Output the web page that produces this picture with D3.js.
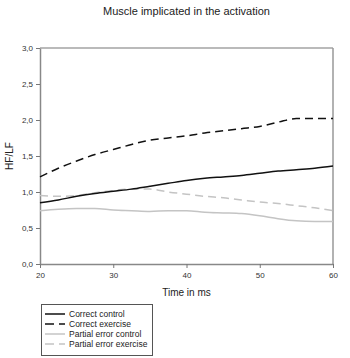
<!DOCTYPE html>
<html><head><meta charset="utf-8">
<script src="https://cdn.jsdelivr.net/npm/d3@7"></script>
<style>
body{margin:0;background:#fff;}
svg{display:block;font-family:"Liberation Sans",Arial,sans-serif;}
</style></head>
<body><svg id="c" width="350" height="358"></svg>
<script>
const times = [20,22.5,25,27.5,30,32.5,35,37.5,40,42.5,45,47.5,50,52.5,55,57.5,60];
const correctControl = [0.85,0.89,0.94,0.98,1.01,1.04,1.08,1.12,1.16,1.19,1.21,1.23,1.26,1.29,1.31,1.33,1.36];
const correctExercise = [1.21,1.33,1.43,1.52,1.59,1.66,1.72,1.75,1.78,1.82,1.85,1.88,1.91,1.97,2.02,2.02,2.02];
const partialErrorControl = [0.74,0.76,0.77,0.77,0.75,0.74,0.73,0.74,0.74,0.72,0.71,0.70,0.67,0.63,0.60,0.59,0.59];
const partialErrorExercise = [0.95,0.94,0.95,0.99,1.02,1.04,1.04,1.00,0.97,0.94,0.92,0.89,0.86,0.84,0.81,0.78,0.74];
const seriesNames = ["Correct control","Correct exercise","Partial error control","Partial error exercise"];
const xTicks = [20,30,40,50,60];
const yTicks = [0,0.5,1,1.5,2,2.5,3];

const series = [
  {name:seriesNames[0], values:correctControl, color:"#111", dash:null},
  {name:seriesNames[1], values:correctExercise, color:"#111", dash:"8,5"},
  {name:seriesNames[2], values:partialErrorControl, color:"#c4c4c4", dash:null},
  {name:seriesNames[3], values:partialErrorExercise, color:"#c4c4c4", dash:"8,5"}
];

const svg = d3.select("#c");
const L=40,R=333,T=48,B=264;
const x = d3.scaleLinear().domain([20,60]).range([L,R]);
const y = d3.scaleLinear().domain([0,3]).range([B,T]);
const fmt = d => d3.format(".1f")(d).replace(".",",");

svg.append("text").attr("x",(L+R)/2).attr("y",15).attr("text-anchor","middle")
  .attr("font-size",11).attr("fill","#222").text("Muscle implicated in the activation");

// frame top/right
svg.append("line").attr("x1",L).attr("x2",R).attr("y1",T).attr("y2",T).attr("stroke","#777").attr("stroke-width",1.2);
svg.append("line").attr("x1",R).attr("x2",R).attr("y1",T).attr("y2",B).attr("stroke","#999").attr("stroke-width",1.5);

const gx = svg.append("g").attr("transform",`translate(0,${B})`)
  .call(d3.axisBottom(x).tickValues(xTicks).tickSize(4).tickSizeOuter(0).tickFormat(d3.format("d")));
const gy = svg.append("g").attr("transform",`translate(${L},0)`)
  .call(d3.axisLeft(y).tickValues(yTicks).tickSize(4).tickSizeOuter(0).tickFormat(fmt));
[gx,gy].forEach(g=>{
  g.select(".domain").attr("stroke","#888").attr("stroke-width",1.5);
  g.selectAll(".tick line").attr("stroke","#777");
  g.selectAll(".tick text").attr("font-size",8).attr("fill","#333").attr("font-family","Liberation Sans,Arial,sans-serif");
});
gx.selectAll(".tick text").attr("dy","0.9em");

svg.append("text").attr("x",(L+R)/2).attr("y",296).attr("text-anchor","middle")
  .attr("font-size",10).attr("fill","#222").text("Time in ms");
svg.append("text").attr("transform",`translate(13,${(T+B)/2}) rotate(-90)`).attr("text-anchor","middle")
  .attr("font-size",10).attr("fill","#222").text("HF/LF");

const line = d3.line().x((d,i)=>x(times[i])).y(d=>y(d)).curve(d3.curveMonotoneX);
const order = [2,3,0,1];
order.forEach(k=>{
  const s = series[k];
  svg.append("path").attr("d",line(s.values)).attr("fill","none")
    .attr("stroke",s.color).attr("stroke-width",1.5)
    .attr("stroke-dasharray",s.dash);
});

// legend
const lg = svg.append("g");
lg.append("rect").attr("x",41.5).attr("y",304.5).attr("width",111).attr("height",51)
  .attr("fill","#fff").attr("stroke","#555").attr("stroke-width",1);
series.forEach((s,i)=>{
  const yy = 314+i*10;
  lg.append("line").attr("x1",45).attr("x2",65).attr("y1",yy).attr("y2",yy)
    .attr("stroke",s.color).attr("stroke-width",1.5).attr("stroke-dasharray",s.dash?"9,5":null);
  lg.append("text").attr("x",69).attr("y",yy+3).attr("font-size",8.5).attr("fill","#222").text(s.name);
});
</script></body></html>
